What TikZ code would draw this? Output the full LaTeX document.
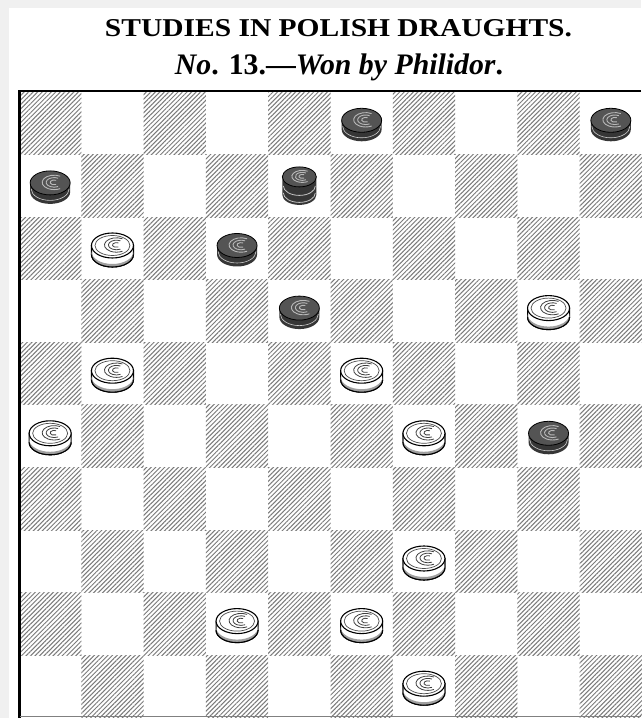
\documentclass[tikz,border=0pt]{standalone}
\usepackage{fontspec}
\usetikzlibrary{patterns.meta}
\newfontfamily\titlefont{Liberation Serif}
\definecolor{pagebg}{HTML}{F0F0F0}
\definecolor{piecedark}{HTML}{363636}
\definecolor{hatchcol}{HTML}{7A7A7A}
\tikzset{
  hatch/.style={pattern={Lines[angle=45,distance=3.2pt,line width=1pt]},pattern color=hatchcol},
  rimline/.style={line width=1.1pt},
  wpiece/.pic={
    \filldraw[fill=white,draw=black,rimline] (-21,3) -- (-21,-6) arc[start angle=180,end angle=360,x radius=21,y radius=12.5] -- (21,3) -- cycle;
    \fill[gray!75] (-21,-3) arc[start angle=180,end angle=360,x radius=21,y radius=12.5] -- (21,-6) arc[start angle=360,end angle=180,x radius=21,y radius=12.5] -- cycle;
    \draw[rimline] (-21,-6) arc[start angle=180,end angle=360,x radius=21,y radius=12.5];
    \filldraw[fill=white,draw=black,rimline] (0,3) ellipse [x radius=21,y radius=12.5];
    \draw[gray!60!black,line width=.7pt] (0,3) ellipse [x radius=17.5,y radius=10];
    \foreach \k in {1,2,3}{
      \draw[gray!50!black,line width=.8pt] ([shift={(4,3.5)}]60:{4*\k} and {2.4*\k}) arc[start angle=60,end angle=300,x radius={4*\k},y radius={2.4*\k}];
    }
  },
  bpiece/.pic={
    \fill[piecedark] (-20,3) -- (-20,-6) arc[start angle=180,end angle=360,x radius=20,y radius=12] -- (20,3) -- cycle;
    \draw[gray!40,line width=.6pt] (-19,-3) arc[start angle=180,end angle=360,x radius=19,y radius=11.5];
    \filldraw[fill=piecedark!85!white,draw=black,line width=.8pt] (0,3) ellipse [x radius=20,y radius=12];
    \foreach \k in {1,2,3}{
      \draw[gray!55,line width=.9pt] ([shift={(4,3.5)}]60:{4*\k} and {2.4*\k}) arc[start angle=60,end angle=300,x radius={4*\k},y radius={2.4*\k}];
    }
  },
  bking/.pic={
    \fill[piecedark] (-17,9) -- (-17,-9) arc[start angle=180,end angle=360,x radius=17,y radius=10] -- (17,9) -- cycle;
    \draw[gray!45,line width=.8pt] (-16,0) arc[start angle=180,end angle=360,x radius=16,y radius=9.5];
    \draw[gray!45,line width=.8pt] (-16,-7) arc[start angle=180,end angle=360,x radius=16,y radius=9.5];
    \filldraw[fill=piecedark!85!white,draw=black,line width=.8pt] (0,9) ellipse [x radius=17,y radius=10];
    \foreach \k in {1,2,3}{
      \draw[gray!55,line width=.9pt] ([shift={(3,9.5)}]60:{3.5*\k} and {2*\k}) arc[start angle=60,end angle=300,x radius={3.5*\k},y radius={2*\k}];
    }
  }
}
\begin{document}
\begin{tikzpicture}[x=1pt,y=1pt]
  \useasboundingbox (0,0) rectangle (641,718);
  \fill[pagebg] (0,0) rectangle (641,718);
  \fill[white] (9,0) rectangle (641,710);
  % title
  \node[anchor=base,inner sep=0pt] (title) at (338.5,681)
    {\resizebox{467pt}{17pt}{\titlefont\bfseries\fontsize{25}{25}\selectfont STUDIES IN POLISH DRAUGHTS.}};
  \node[anchor=base,inner sep=0pt] (subtitle) at (339,643)
    {\resizebox{328pt}{!}{\titlefont\bfseries\fontsize{24}{24}\selectfont\textit{No}. 13.—\textit{Won by Philidor}.}};
  % squares
  \foreach \r in {0,...,9}{
    \foreach \c in {0,...,9}{
      \pgfmathtruncatemacro{\parity}{mod(\r+\c,2)}
      \ifnum\parity=0
        \fill[hatch] ({19+62.3*\c},{626-62.6*\r}) rectangle ++(62.3,-62.6);
      \fi
    }
  }
  % border
  \coordinate (tl) at (19.5,627);
  \coordinate (tr) at (641,627);
  \coordinate (bl) at (19.5,0);
  \draw[line width=2.6pt] (tr) -- (tl) -- (bl);
  \draw[gray,line width=.8pt] (19.5,1.2) -- (641,1.2);
  % pieces
  \foreach \r/\c in {0/5,0/9,1/0,2/3,3/4,5/8}{
    \pic at ({19+62.3*(\c+0.5)},{626-62.6*(\r+0.5)}) {bpiece};
  }
  \pic at ({19+62.3*4.5},{626-62.6*1.5}) {bking};
  \foreach \r/\c in {2/1,3/8,4/1,4/5,5/0,5/6,7/6,8/3,8/5,9/6}{
    \pic at ({19+62.3*(\c+0.5)},{626-62.6*(\r+0.5)}) {wpiece};
  }
\end{tikzpicture}
\end{document}
